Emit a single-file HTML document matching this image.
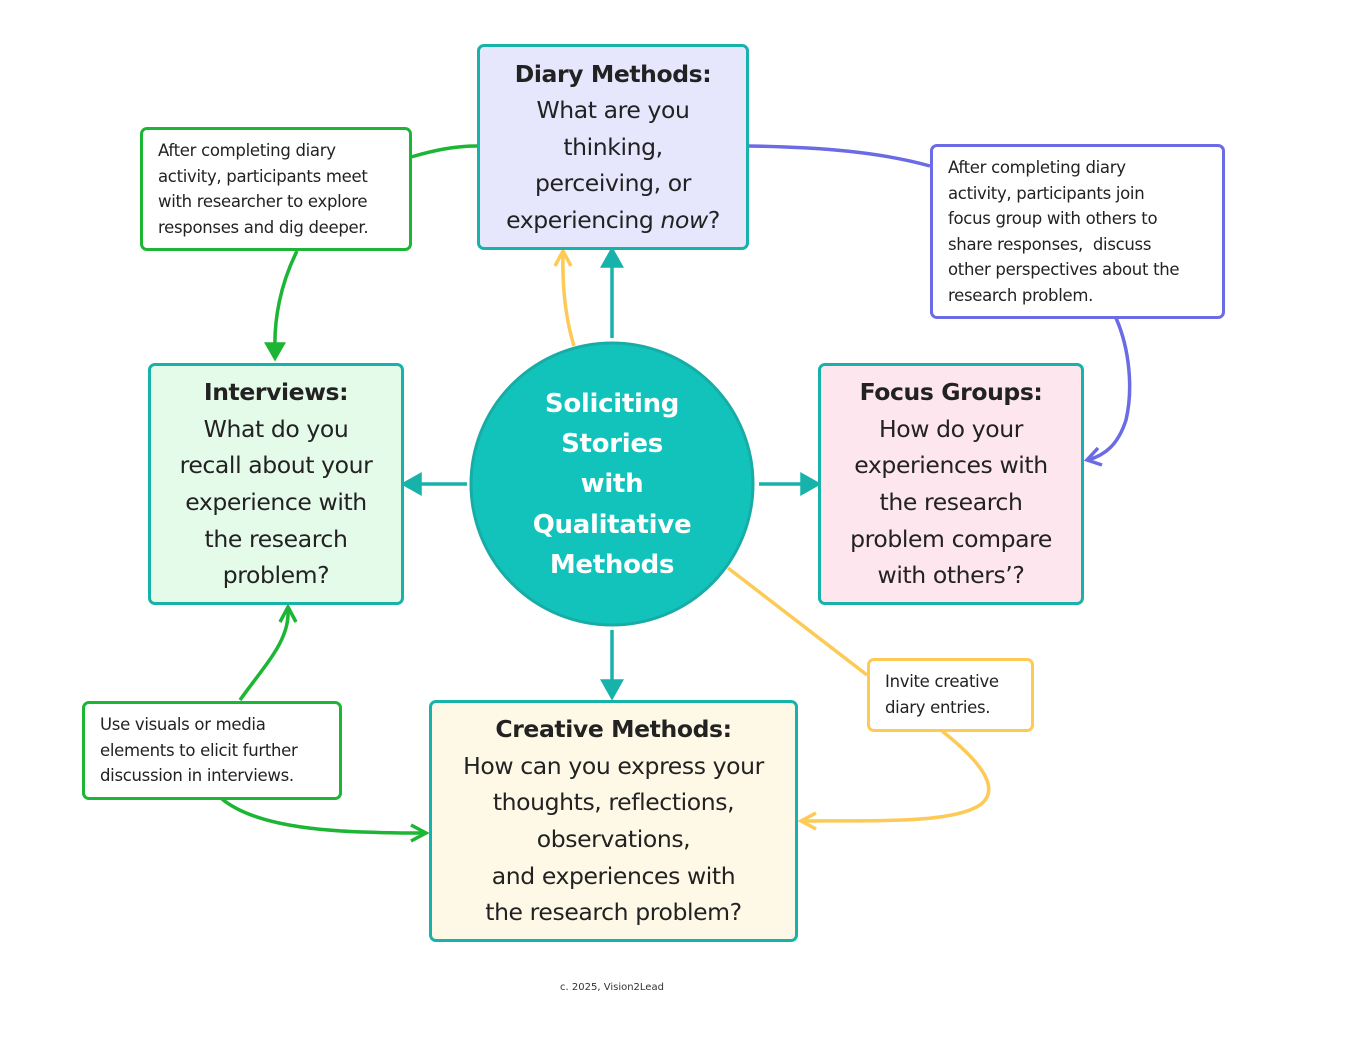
<!DOCTYPE html>
<html><head><meta charset="utf-8"><style>
body{margin:0;width:1369px;height:1053px;background:#fff;position:relative;overflow:hidden;font-family:"DejaVu Sans","Liberation Sans",sans-serif;color:#222}
.b{position:absolute;box-sizing:border-box;border:3.5px solid #17b3ab;border-radius:7px;text-align:center;font-size:23.5px;line-height:36.6px;letter-spacing:-0.4px;display:flex;flex-direction:column;justify-content:center}
.b b{font-weight:bold}
.n{position:absolute;box-sizing:border-box;border:3.5px solid;border-radius:7px;background:#fff;font-size:16.5px;line-height:25.6px;padding:8px 0 0 15px;letter-spacing:-0.3px}
svg{position:absolute;left:0;top:0}
</style></head><body>
<svg width="1369" height="1053" fill="none" stroke-width="3.5">
<g stroke="#17b3ab" fill="#17b3ab">
<line x1="612" y1="338" x2="612" y2="266"/><path d="M603,266 L612,250 L621,266z"/>
<line x1="467" y1="484" x2="420" y2="484"/><path d="M420,475 L404,484 L420,493z"/>
<line x1="759" y1="484" x2="802" y2="484"/><path d="M802,475 L818,484 L802,493z"/>
<line x1="612" y1="630" x2="612" y2="681"/><path d="M603,681 L612,697 L621,681z"/>
</g>
<g stroke="#fcca55">
<path d="M574,346 C566,320 562,290 563,252"/><path d="M555,266 L563,251 L571,266"/>
<path d="M728,568 L867,675"/>
<path d="M942,731 C985,765 1000,790 980,805 C950,825 860,820 802,821"/><path d="M816,813 L801,821 L816,829"/>
</g>
<g stroke="#1cb534">
<path d="M411,157 C435,150 455,146 477,146"/>
<path d="M297,251 C280,285 274,320 275,350"/><path d="M267,344 L275,358 L283,344z" fill="#1cb534"/>
<path d="M240,700 C265,665 290,640 288,610"/><path d="M280,622 L288,607 L296,622"/>
<path d="M222,799 C260,830 340,833 425,833"/><path d="M411,825 L426,833 L411,841"/>
</g>
<g stroke="#6b6be6">
<path d="M748,146 C820,147 880,152 930,166"/>
<path d="M1116,318 C1130,350 1133,390 1126,420 C1118,445 1105,455 1088,460"/><path d="M1098,448 L1087,460 L1102,465"/>
</g>
<circle cx="612" cy="484" r="141" fill="#12c3bc" stroke="#18aca6" stroke-width="3"/>
</svg>
<div style="position:absolute;left:471px;top:384px;width:282px;text-align:center;color:#fff;font-weight:bold;font-size:26px;line-height:40.2px;letter-spacing:-0.3px">Soliciting<br>Stories<br>with<br>Qualitative<br>Methods</div>
<div class="b" style="left:477px;top:44px;width:272px;height:206px;background:#e6e6fc"><div><b>Diary Methods:</b><br>What are you<br>thinking,<br>perceiving, or<br>experiencing <i>now</i>?</div></div>
<div class="b" style="left:148px;top:363px;width:256px;height:242px;background:#e5fbe9"><div><b>Interviews:</b><br>What do you<br>recall about your<br>experience with<br>the research<br>problem?</div></div>
<div class="b" style="left:818px;top:363px;width:266px;height:242px;background:#fde6ee"><div><b>Focus Groups:</b><br>How do your<br>experiences with<br>the research<br>problem compare<br>with others’?</div></div>
<div class="b" style="left:429px;top:700px;width:369px;height:242px;background:#fef8e6"><div><b>Creative Methods:</b><br>How can you express your<br>thoughts, reflections,<br>observations,<br>and experiences with<br>the research problem?</div></div>
<div class="n" style="left:140px;top:127px;width:272px;height:124px;border-color:#1cb534">After completing diary<br>activity, participants meet<br>with researcher to explore<br>responses and dig deeper.</div>
<div class="n" style="left:930px;top:144px;width:295px;height:175px;border-color:#6b6be6">After completing diary<br>activity, participants join<br>focus group with others to<br>share responses,&nbsp; discuss<br>other perspectives about the<br>research problem.</div>
<div class="n" style="left:867px;top:658px;width:167px;height:74px;border-color:#fcca55">Invite creative<br>diary entries.</div>
<div class="n" style="left:82px;top:701px;width:260px;height:99px;border-color:#1cb534">Use visuals or media<br>elements to elicit further<br>discussion in interviews.</div>
<div style="position:absolute;left:512px;top:982px;width:200px;text-align:center;font-size:10px;color:#333">c. 2025, Vision2Lead</div>
</body></html>
